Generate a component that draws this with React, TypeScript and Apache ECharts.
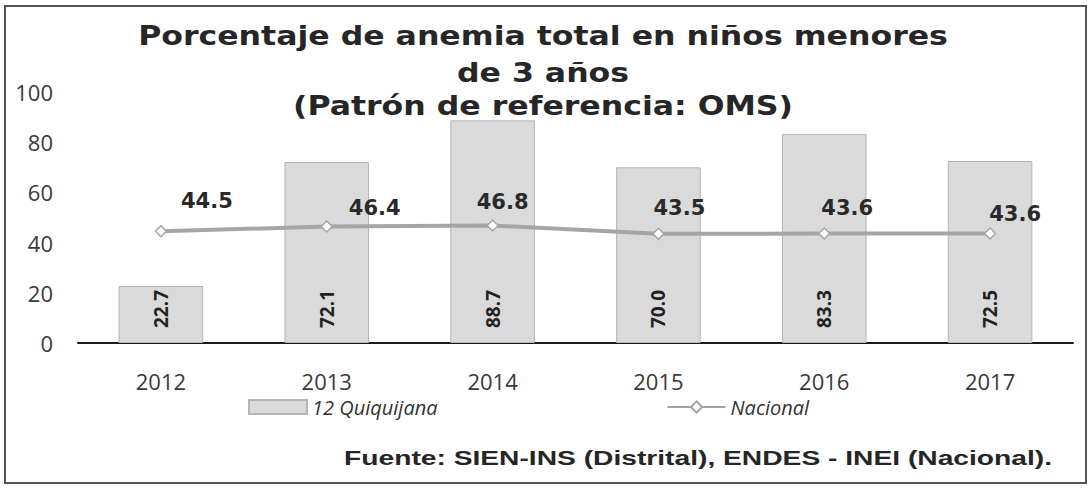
import React, { useEffect, useRef } from "react";
import * as echarts from "echarts";

const years = ["2012", "2013", "2014", "2015", "2016", "2017"];
const quiquijana = [22.7, 72.1, 88.7, 70.0, 83.3, 72.5];
const nacional = [44.5, 46.4, 46.8, 43.5, 43.6, 43.6];
const yTicks = { min: 0, max: 100, interval: 20 };
const titleLines = [
  "Porcentaje de anemia total en niños menores",
  "de 3 años",
  "(Patrón de referencia: OMS)",
];
const sourceText = "Fuente: SIEN-INS (Distrital), ENDES - INEI (Nacional).";
const seriesNames = ["12 Quiquijana", "Nacional"];

// label offsets (style only)
const nacLabelOffsets = [
  [46, -9],
  [48, 3],
  [10, -2],
  [21, -4],
  [23, -4],
  [25, 2],
];

function measure(text: string, font: string): number {
  const c = document.createElement("canvas");
  const ctx = c.getContext("2d");
  if (!ctx) return text.length * 10;
  ctx.font = font;
  return ctx.measureText(text).width;
}

export default function App() {
  const ref = useRef<HTMLDivElement>(null);
  useEffect(() => {
    if (!ref.current) return;
    const chart = echarts.init(ref.current, null, { renderer: "svg" });

    const titleFont = "bold 26px 'DejaVu Sans'";
    const t1w = measure(titleLines[0], titleFont);
    const titleScale = 810 / t1w;
    const srcFont = "bold 20px 'Liberation Sans'";
    const sw = measure(sourceText, srcFont);
    const srcScale = 708 / sw;

    const titleY = [36, 73, 106];

    chart.setOption({
      animation: false,
      backgroundColor: "#ffffff",
      grid: { left: 78, right: 17, top: 92, bottom: 148, containLabel: false },
      legend: {
        left: 243,
        top: 392,
        itemWidth: 58,
        itemHeight: 14,
        itemGap: 229,
        textStyle: {
          fontFamily: "Open Sans",
          fontStyle: "italic",
          fontSize: 20,
          color: "#333",
        },
        data: [
          { name: seriesNames[0], icon: "rect" },
          { name: seriesNames[1] },
        ],
      },
      xAxis: {
        type: "category",
        data: years,
        axisLine: { lineStyle: { color: "#1a1a1a", width: 2 } },
        axisTick: { show: false },
        axisLabel: {
          margin: 27,
          fontFamily: "Open Sans",
          fontSize: 22,
          color: "#3a3a3a",
        },
      },
      yAxis: {
        type: "value",
        min: yTicks.min,
        max: yTicks.max,
        interval: yTicks.interval,
        axisLine: { show: false },
        axisTick: { show: false },
        splitLine: { show: false },
        axisLabel: {
          margin: 25,
          fontFamily: "Open Sans",
          fontSize: 22,
          color: "#3a3a3a",
        },
      },
      series: [
        {
          name: seriesNames[0],
          type: "bar",
          data: quiquijana,
          barWidth: "51%",
          itemStyle: {
            color: "#dadada",
            borderColor: "#b5b5b5",
            borderWidth: 1,
          },
          label: {
            show: true,
            position: "insideBottom",
            distance: 15,
            rotate: 90,
            align: "left",
            verticalAlign: "middle",
            fontFamily: "Open Sans",
            fontWeight: "bold",
            fontSize: 19,
            color: "#222",
            formatter: (p: any) => Number(p.value).toFixed(1),
          },
          z: 1,
        },
        {
          name: seriesNames[1],
          type: "line",
          data: nacional.map((v, i) => ({
            value: v,
            label: { offset: nacLabelOffsets[i] },
          })),
          symbol: "diamond",
          symbolSize: 11,
          lineStyle: { color: "#a5a5a5", width: 4 },
          itemStyle: { color: "#ffffff", borderColor: "#a5a5a5", borderWidth: 1.5 },
          label: {
            show: true,
            position: "top",
            distance: 5,
            fontFamily: "DejaVu Sans",
            fontWeight: "bold",
            fontSize: 21,
            color: "#2a2a2a",
            formatter: (p: any) => Number(p.value).toFixed(1),
          },
          z: 3,
        },
      ],
      graphic: [
        {
          type: "rect",
          silent: true,
          shape: { x: 5, y: 6, width: 1081, height: 477 },
          style: { fill: "none", stroke: "#555", lineWidth: 2 },
          z: -10,
        },
        ...titleLines.map((t, i) => ({
          type: "text",
          x: 543,
          y: titleY[i],
          scaleX: titleScale,
          silent: true,
          style: {
            text: t,
            fontFamily: "DejaVu Sans",
            fontWeight: "bold",
            fontSize: 26,
            fill: "#262626",
            align: "center",
            verticalAlign: "middle",
          },
        })),
        {
          type: "text",
          x: 1052,
          y: 458,
          scaleX: srcScale,
          silent: true,
          style: {
            text: sourceText,
            fontFamily: "Liberation Sans",
            fontWeight: "bold",
            fontSize: 20,
            fill: "#262626",
            align: "right",
            verticalAlign: "middle",
          },
        },
      ],
    });
    return () => chart.dispose();
  }, []);
  return (
    <div
      ref={ref}
      style={{ position: "absolute", left: 0, top: 0, width: 1090, height: 491 }}
    />
  );
}
